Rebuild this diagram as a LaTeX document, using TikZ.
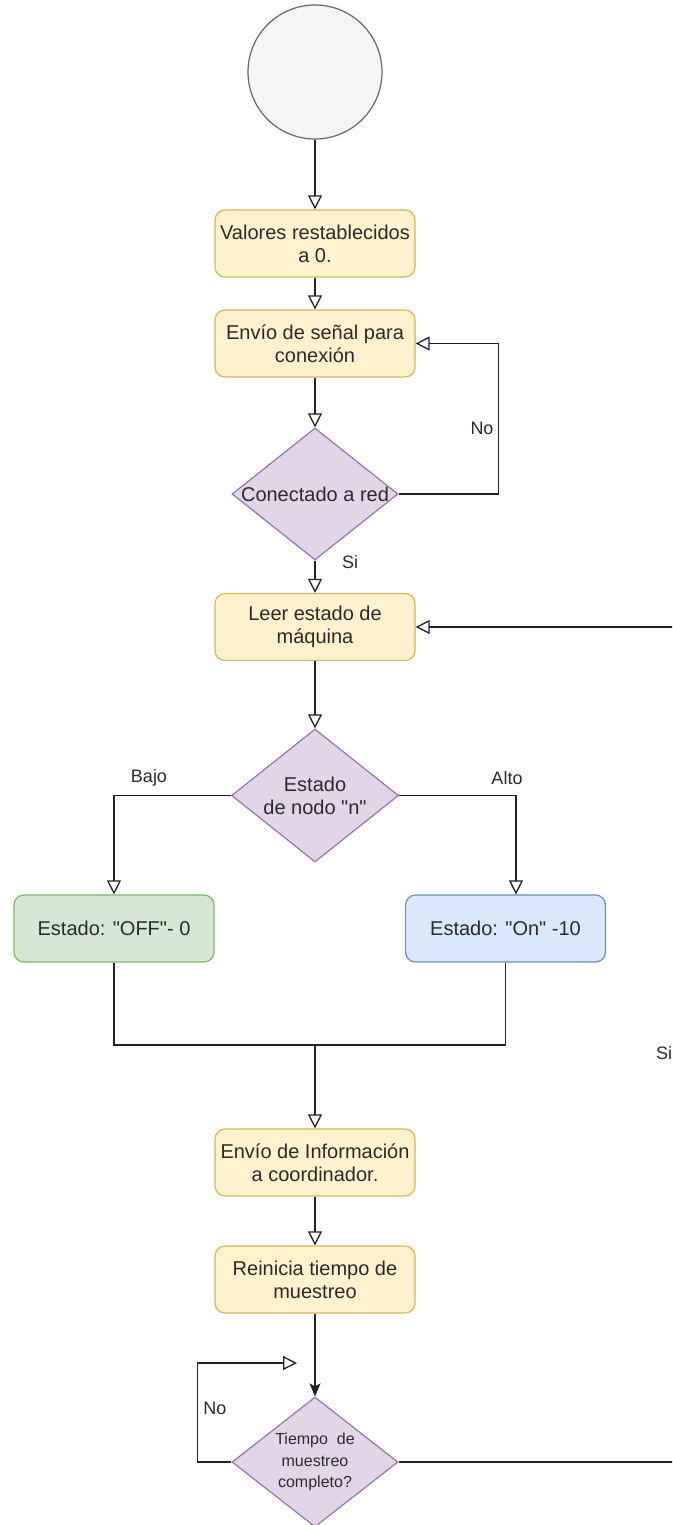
\documentclass[tikz,border=0pt]{standalone}
\usepackage{fontspec}
\setmainfont{Liberation Sans}[Ligatures=TeXOff]
\usetikzlibrary{shapes.geometric,arrows.meta}

\definecolor{yelFill}{HTML}{FFF2CC}
\definecolor{yelLine}{HTML}{D6B656}
\definecolor{grnFill}{HTML}{D5E8D4}
\definecolor{grnLine}{HTML}{82B366}
\definecolor{bluFill}{HTML}{DAE8FC}
\definecolor{bluLine}{HTML}{6C8EBF}
\definecolor{purFill}{HTML}{E1D5E7}
\definecolor{purLine}{HTML}{9673A6}
\definecolor{gryFill}{HTML}{F5F5F5}
\definecolor{gryLine}{HTML}{666666}
\definecolor{edge}{HTML}{222222}
\definecolor{ink}{HTML}{2A2A2A}

\begin{document}
\begin{tikzpicture}[x=1pt,y=-1pt,
  font=\fontsize{20}{23}\selectfont, text=ink,
  proc/.style={rectangle, rounded corners=10pt, line width=1.2pt,
    minimum width=200pt, minimum height=67pt, inner sep=0pt, align=center},
  yel/.style={proc, fill=yelFill, draw=yelLine},
  grn/.style={proc, fill=grnFill, draw=grnLine},
  blu/.style={proc, fill=bluFill, draw=bluLine},
  dec/.style={diamond, fill=purFill, draw=purLine, line width=1.2pt, inner sep=0pt},
  dectext/.style={align=center, inner sep=0pt},
  terminal/.style={circle, fill=gryFill, draw=gryLine, line width=1.2pt, minimum size=134pt, inner sep=0pt},
  line/.style={draw=edge, line width=1.5pt},
  flow/.style={line, -{Triangle[open, length=14pt, width=14pt, fill=white, line width=1.3pt]}},
  solidflow/.style={line, -{Stealth[length=13pt, width=11pt, inset=3pt]}},
  tag/.style={font=\fontsize{18}{20}\selectfont, inner sep=0pt},
]
\clip (0,0) rectangle (672,1525);
\useasboundingbox (0,0) rectangle (672,1525);

% ---- nodes ----
\node[terminal] (start) at (315,72) {};
\node[yel] (reset) at (315,243.5) {Valores restablecidos\\a 0.};
\node[yel] (send) at (315,343.5) {Envío de señal para\\conexión};
\node[dec, minimum width=166pt, minimum height=132pt] (net) at (315,494) {};
\node[dectext] (netT) at (net) {Conectado a red};
\node[yel] (read) at (315,627) {Leer estado de\\máquina};
\node[dec, minimum width=167pt, minimum height=133pt] (state) at (315,795.5) {};
\node[dectext] (stateT) at (state) {Estado\\de nodo "n"};
\node[grn] (off) at (114,928.5) {Estado: "OFF"- 0};
\node[blu] (on) at (505.5,928.5) {Estado: "On" -10};
\node[yel] (info) at (315,1162.5) {Envío de Información\\a coordinador.};
\node[yel] (restart) at (315,1279.5) {Reinicia tiempo de\\muestreo};
\node[dec, minimum width=166pt, minimum height=130pt] (done) at (315,1462) {};
\node[dectext, font=\fontsize{16}{21.5}\selectfont] (doneT) at (done) {Tiempo\ \ de\\muestreo\\completo?};

% ---- junctions and off-page ends ----
\coordinate (merge) at (315,1045);
\coordinate (loopIn) at (700,627);
\coordinate (loopOut) at (700,1462);
\coordinate (waitEnd) at (297,1363);

% ---- connectors ----
\draw[flow] (start) -- (reset);
\draw[flow] (reset) -- (send);
\draw[flow] (send) -- (net);
\draw[flow] (net.east) -- ++(100,0) |- (send.east);
\draw[flow] (net) -- (read);
\draw[flow] (loopIn) -- (read.east);
\draw[flow] (read) -- (state);
\draw[flow] (state.west) -| (off.north);
\draw[flow] (state.east) -| ([xshift=10.5pt]on.north);
\draw[line] (off.south) -- (off.south |- merge) -- (on.south |- merge) -- (on.south);
\draw[flow] (merge) -- (info);
\draw[flow] (info) -- (restart);
\draw[solidflow] (restart) -- (done);
\draw[flow] (done.west) -- ++(-34,0) |- (waitEnd);
\draw[line] (done.east) -- (loopOut);

% ---- branch labels ----
\node[tag] (lNo1) at (482,428) {No};
\node[tag] (lSi1) at (350,562) {Si};
\node[tag] (lBajo) at (149,778) {Bajo};
\node[tag] (lAlto) at (507,778) {Alto};
\node[tag] (lNo2) at (215,1408) {No};
\node[tag, anchor=west] (lSi2) at (656,1053) {Si};
\end{tikzpicture}
\end{document}
